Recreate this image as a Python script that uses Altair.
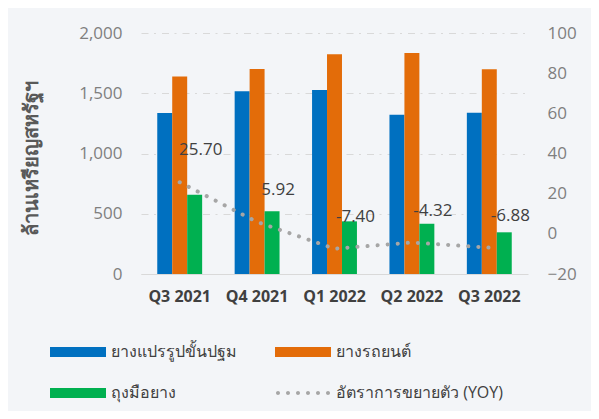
import altair as alt
import pandas as pd

quarters = ["Q3 2021", "Q4 2021", "Q1 2022", "Q2 2022", "Q3 2022"]
series_names = ["ยางแปรรูปขั้นปฐม", "ยางรถยนต์", "ถุงมือยาง", "อัตราการขยายตัว (YOY)"]
processed = [1336, 1516, 1527, 1322, 1339]
tyres = [1640, 1701, 1823, 1834, 1699]
gloves = [658, 520, 437, 417, 346]
yoy = [25.70, 5.92, -7.40, -4.32, -6.88]
colors = ["#0070C0", "#E36C09", "#00B050", "#A6A6A6"]

FONT = "Open Sans"

rows = []
for i, q in enumerate(quarters):
    rows.append({"quarter": q, "series": series_names[0], "value": processed[i]})
    rows.append({"quarter": q, "series": series_names[1], "value": tyres[i]})
    rows.append({"quarter": q, "series": series_names[2], "value": gloves[i]})
bar_df = pd.DataFrame(rows)
yoy_df = pd.DataFrame({"quarter": quarters, "yoy": yoy,
                       "label": [f"{v:.2f}" for v in yoy]})
legend_df = pd.DataFrame({"series": series_names})

rect_path = "M-5.6,-1H5.6V1H-5.6Z"
dots_path = "".join(
    f"M{c - 0.4:.2f},0a0.4,0.4 0 1,0 0.8,0a0.4,0.4 0 1,0 -0.8,0"
    for c in [-5, -3, -1, 1, 3, 5]
)
shapes = [rect_path, rect_path, rect_path, dots_path]

x_enc = alt.X("quarter:N", sort=quarters,
              scale=alt.Scale(paddingInner=0.42, paddingOuter=0.21),
              axis=alt.Axis(title=None, labelAngle=0, ticks=False,
                            domainColor="#D9D9D9", domainWidth=1,
                            labelFont=FONT, labelFontSize=16,
                            labelFontWeight="bold", labelColor="#404040",
                            labelPadding=14))

color_scale = alt.Scale(domain=series_names, range=colors)


def make_legend():
    return alt.Legend(title=None, orient="none", direction="horizontal",
                      columns=2, legendX=-94, legendY=311,
                      labelFont=FONT, labelFontSize=16, labelLimit=300,
                      labelColor="#404040", symbolStrokeWidth=0,
                      symbolOpacity=1,
                      symbolSize=100, symbolOffset=23,
                      labelOffset=25, columnPadding=35,
                      rowPadding=25, gridAlign="each", padding=0)


legend_layer = alt.Chart(legend_df).mark_point(
    filled=True, opacity=0, size=100
).encode(
    color=alt.Color("series:N", scale=color_scale, legend=make_legend()),
    shape=alt.Shape("series:N", scale=alt.Scale(domain=series_names, range=shapes),
                    legend=make_legend()),
)

bars = alt.Chart(bar_df).mark_bar().encode(
    x=x_enc,
    xOffset=alt.XOffset("series:N", sort=series_names[:3],
                        scale=alt.Scale(domain=series_names[:3], paddingInner=0)),
    y=alt.Y("value:Q", scale=alt.Scale(domain=[0, 2000], nice=False),
            axis=alt.Axis(values=[0, 500, 1000, 1500, 2000], format=",.0f",
                          grid=True, gridColor="#D9D9D9", gridDash=[7, 5.5, 2, 6],
                          domain=False, ticks=False,
                          labelFont=FONT, labelFontSize=17, labelColor="#7F7F7F",
                          labelPadding=19,
                          title="ล้านเหรียญสหรัฐฯ", titleFont=FONT,
                          titleFontSize=20, titleFontWeight="bold",
                          titleColor="#595959", titleAngle=270,
                          titleBaseline="middle", titleAlign="center",
                          titleX=-110, titleY=125)),
    color=alt.Color("series:N", scale=color_scale, legend=make_legend()),
)

line = alt.Chart(yoy_df).mark_line(
    strokeDash=[0.1, 10], strokeCap="round", strokeWidth=4, color="#A6A6A6"
).encode(
    x=alt.X("quarter:N", sort=quarters),
    y=alt.Y("yoy:Q", scale=alt.Scale(domain=[-20, 100], nice=False),
            axis=alt.Axis(orient="right", values=[-20, 0, 20, 40, 60, 80, 100],
                          grid=False, domain=False, ticks=False,
                          labelFont=FONT, labelFontSize=17, labelColor="#7F7F7F",
                          labelPadding=19, title=None)),
)

labels = alt.Chart(yoy_df).mark_text(
    dx=21, dy=-32, fontSize=17, font=FONT, color="#404040"
).encode(
    x=alt.X("quarter:N", sort=quarters),
    y=alt.Y("yoy:Q"),
    text="label:N",
)

chart = alt.layer(
    legend_layer, bars, alt.layer(line, labels)
).resolve_scale(y="independent").properties(
    width=387, height=241,
    autosize=alt.AutoSizeParams(type="none"),
    padding={"left": 133, "top": 25, "right": 63, "bottom": 137},
    background="#F3F5F8",
).configure_view(stroke=None)

chart.save("out.html", embed_options={"renderer": "svg", "actions": False})
